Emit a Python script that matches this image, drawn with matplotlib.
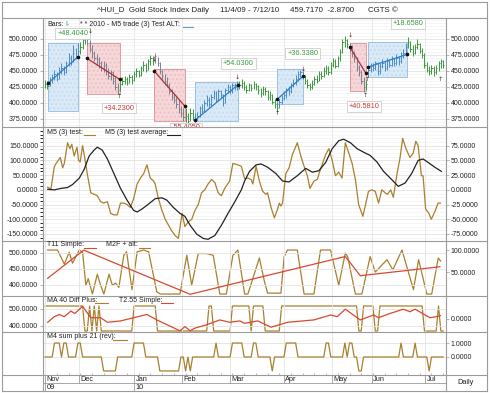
import numpy as np
import matplotlib
matplotlib.use('Agg')
import matplotlib.pyplot as plt
from matplotlib.patches import Rectangle
from matplotlib.lines import Line2D
from matplotlib.ticker import FixedLocator, FormatStrFormatter, MultipleLocator

plt.rcParams['font.family'] = ['Liberation Sans', 'DejaVu Sans']
plt.rcParams['axes.unicode_minus'] = False

W, H = 490, 393
FS = 5.0

# ---------------- data ----------------
close = [430, 427, 436, 440, 445, 437, 450, 455, 448, 462, 470, 465, 478, 474, 482, 488, 498, 505, 500, 485,
         478, 470, 468, 462, 455, 460, 450, 442, 448, 435, 425, 420, 430, 435, 438, 432, 440, 436, 445, 450,
         443, 455, 460, 452, 465, 470, 466, 474, 462, 450, 442, 435, 428, 418, 410, 405, 398, 390, 385, 378,
         380, 372, 385, 378, 376, 380, 392, 388, 400, 405, 398, 410, 415, 405, 418, 412, 400, 420, 425, 418,
         428, 425, 430, 428, 432, 425, 420, 428, 424, 430, 426, 420, 415, 422, 418, 410, 412, 402, 398, 392,
         402, 408, 412, 420, 418, 428, 432, 438, 445, 448, 442, 435, 428, 425, 430, 438, 435, 445, 442, 450,
         455, 448, 460, 465, 458, 470, 480, 495, 498, 492, 488, 478, 470, 455, 448, 435, 425, 430, 452, 458,
         455, 462, 450, 458, 463, 455, 465, 460, 468, 462, 470, 465, 475, 478, 488, 495, 485, 478, 488, 492,
         482, 475, 460, 452, 450, 455, 448, 455, 462, 465, 459.717]
high = [436, 434, 440, 446, 452, 448, 456, 462, 458, 466, 478, 475, 490, 486, 494, 496, 506, 512, 512, 498,
        490, 482, 476, 472, 466, 466, 462, 455, 452, 450, 440, 432, 435, 440, 442, 440, 445, 444, 450, 455,
        452, 458, 466, 462, 468, 475, 474, 478, 472, 464, 452, 446, 440, 432, 422, 415, 410, 404, 396, 392,
        392, 385, 392, 390, 384, 386, 396, 398, 405, 412, 410, 414, 420, 418, 422, 420, 414, 424, 430, 428,
        432, 432, 434, 434, 438, 434, 428, 432, 430, 435, 432, 428, 424, 426, 425, 420, 418, 414, 406, 402,
        406, 412, 418, 424, 426, 432, 438, 444, 450, 452, 450, 444, 438, 432, 436, 442, 444, 450, 450, 456,
        460, 458, 464, 470, 468, 474, 484, 500, 504, 500, 494, 490, 482, 472, 460, 452, 440, 436, 456, 462,
        462, 466, 464, 462, 468, 465, 470, 468, 474, 470, 476, 474, 480, 484, 494, 503, 497, 490, 492, 500,
        494, 486, 478, 464, 458, 460, 458, 460, 466, 468, 467]
low = [424, 422, 426, 432, 436, 434, 438, 446, 444, 447, 458, 460, 464, 468, 470, 476, 484, 492, 490, 480,
       470, 465, 460, 455, 450, 448, 444, 438, 436, 430, 420, 414, 418, 428, 430, 428, 432, 430, 435, 440,
       440, 442, 450, 448, 452, 460, 460, 462, 458, 446, 438, 428, 425, 414, 405, 400, 392, 385, 378, 372,
       370, 368, 372, 374, 370, 374, 378, 384, 386, 396, 394, 396, 406, 402, 404, 408, 396, 400, 416, 414,
       416, 420, 420, 422, 424, 420, 415, 418, 418, 422, 420, 414, 410, 412, 412, 405, 404, 398, 392, 386,
       392, 398, 404, 408, 412, 415, 425, 428, 434, 440, 438, 430, 424, 420, 422, 428, 432, 434, 438, 440,
       446, 444, 446, 456, 454, 456, 466, 478, 488, 486, 480, 472, 464, 450, 442, 430, 417, 420, 440, 448,
       450, 452, 444, 446, 454, 450, 452, 456, 458, 458, 460, 460, 462, 470, 474, 486, 480, 474, 476, 484,
       478, 470, 455, 448, 444, 446, 442, 446, 450, 454, 454]

month_labels = ['Nov', 'Dec', 'Jan', 'Feb', 'Mar', 'Apr', 'May', 'Jun', 'Jul']
month_pos = [0, 14.4, 38.1, 58.5, 78.8, 102, 122.5, 139.4, 162.3]
year_labels = ['09', '10']
year_pos = [0, 38.1]

# trade boxes
box_start = [1.3, 17.8, 46.6, 64.0, 99.2, 130.0, 137.7]
box_end = [14.0, 31.8, 59.7, 82.2, 110.2, 136.9, 154.7]
box_top = [494, 494, 453, 433, 453, 494, 495]
box_bottom = [388, 414, 372, 372, 398, 419, 441]
trend_start = [431, 470, 450, 373, 406, 488, 456]
trend_end = [472, 437, 395, 428, 442, 447, 476]
box_side = ['long', 'short', 'short', 'long', 'long', 'short', 'long']
trade_labels = ['+48.4040', '+34.2300', '-55.4050', '+54.0300', '+36.3380', '+40.5810', '+18.6580']
trade_label_x = [11.8, 31.6, 60.2, 82.6, 110.0, 136.2, 154.9]
trade_label_y = [509, 392, 361, 462, 477, 394, 524]

arrow_x = [19.5, 31.8, 46.6, 82.2, 99.2, 110.2, 130.4, 136.9, 137.7, 168.8]
arrow_y = [511, 410, 468, 440, 383, 452, 506, 412, 436, 437]
arrow_dir = ['down', 'up', 'down', 'down', 'up', 'down', 'down', 'up', 'up', 'up']

# panel 2: M5 (3) test and its average
m5_x = [1.1, 2.5, 3.9, 4.7, 6.5, 7.5, 8.2, 9.6, 10.6, 11.4, 12.4, 13.6, 14.3, 15, 16, 16.7, 18.1, 19.5, 20.9,
        22.3, 23.7, 25.1, 26.6, 28, 29.4, 30.8, 32.2, 33.6, 35, 36.4, 37.8, 39.3, 40.7, 42.1, 43.5, 44.9, 46.3,
        47, 48.4, 49.9, 51.3, 52.7, 54.1, 55.5, 56.9, 58.5, 59.7, 61, 62.6, 64, 65.4, 66.8, 68.2, 69.6, 71.1,
        72.5, 73.9, 75.3, 76.7, 78.8, 80.2, 82.3, 83.8, 85.2, 86.6, 88, 88.7, 90.1, 91.5, 92.9, 94.3, 95, 96.5,
        97.9, 99.3, 100, 100.7, 101.4, 102.8, 104.2, 105.6, 107.7, 109.2, 110.6, 112, 113.1, 114.8, 116.2,
        117.6, 119.8, 121.2, 122.6, 124, 125.4, 126.8, 128.2, 129.7, 131.1, 132.5, 133.9, 135.7, 136.7, 138.1,
        139.5, 141, 142.4, 143.8, 145.2, 146.2, 147.6, 148.7, 150.4, 151.5, 152.7, 154.1, 155.8, 157.2, 158.3,
        159.3, 160.7, 161.4, 162.5, 163.9, 164.9, 166.4, 167.8, 168.8]
m5_val = [9, 3, 78, 90, 110, 75, 90, 160, 140, 155, 115, 145, 100, 95, 150, 120, 50, -10, -15,
          -20, -40, -45, -40, -80, -85, -85, -45, -45, -50, -60, -30, 20, 40, 55, 85, 40, 30,
          20, -30, -70, -100, -120, -140, -155, -165, -80, -125, -110, -100, -70, -50, -10, 0, 20, 35,
          25, -10, -20, 5, 30, 90, 85, 80, 38, 40, 35, 20, 80, 30, -5, -15, -10, -60,
          -95, -65, -45, -55, -45, 55, 75, 120, 160, 115, 80, 48, 5, 30, 35,
          70, 120, 140, 100, 48, 60, 40, 160, 125, 90, 35, -50, -90, -55, -5,
          0, -5, -45, 0, -10, -15, 0, -25, 60, 105, 175, 140, 110, 125, 165,
          150, 48, 48, -65, -80, -100, -75, -45, -45]
avg_x = [1.1, 3.9, 6.8, 9.6, 11.7, 14.6, 16.7, 18.8, 20.9, 22.3, 24.4, 26.6, 29.4, 32.2, 35, 37.8, 39.3, 41.4,
         44.2, 47, 49.9, 52, 54.8, 57.6, 59.7, 61.9, 64.7, 67.5, 69.6, 72.5, 75.3, 78.1, 80.9, 83.8, 85.2, 87.3,
         90.1, 92.2, 95, 98.6, 101.4, 104.2, 107.7, 111.3, 114.1, 116.9, 119.8, 122.6, 125.4, 127.5, 130.4,
         133.2, 136, 138.8, 141.7, 144.5, 148, 150.8, 153.7, 156.5, 159.3, 161.4, 163.6, 166.4, 169.2]
avg_val = [2, 0, 5, 8, 18, 40, 70, 115, 135, 145, 135, 105, 55, 5, -35, -70, -75, -65,
           -48, -30, -27, -35, -60, -80, -90, -120, -150, -165, -168, -155, -120, -80, -42, 0, 30, 63,
           85, 88, 77, 55, 30, 27, 48, 73, 60, 65, 93, 140, 167, 172, 160,
           140, 128, 117, 95, 63, 35, 12, 23, 55, 100, 105, 93, 77, 63]

# panel 3: T11 Simple (0-100 scale) and M2F + alt
t11_x = [1.1, 5.3, 8.2, 10.3, 11.7, 14.6, 16, 17.4, 18.4, 20.2, 22.3, 23.7, 25.1, 27.3, 28.7, 30.1, 31.5,
         33.6, 34.8, 37.1, 39.3, 42.1, 44.2, 47.7, 49.2, 57.6, 60.5, 62.6, 65.4, 68.9, 71.8, 74.6, 77.4, 80.2,
         82.3, 85.2, 86.6, 91.5, 93.6, 95, 100.7, 102.1, 103.5, 107.7, 110.6, 114.8, 117.6, 121.9, 125.4, 128.2,
         129.2, 132.5, 135.3, 138.8, 141, 146, 148.5, 152.4, 157.3, 159.5, 163, 165.1, 167.9, 168.9]
t11_val = [100, 100, 68, 95, 70, 100, 95, 20, 35, 0, 45, 20, 0, 45, 20, 25, 15,
           88, 96, 10, 96, 100, 96, 5, 0, 0, 88, 20, 92, 92, 88, 0, 0, 88,
           100, 0, 0, 82, 30, 2, 2, 85, 100, 100, 0, 0, 100, 100, 20, 93,
           85, 0, 0, 85, 50, 78, 55, 100, 10, 78, 0, 0, 82, 75]
m2f_x = [1.1, 16.5, 61.9, 128.2, 134.6, 168.6]
m2f_val = [421, 509, 371, 489, 429, 457]

# panel 4: MA 40 Diff Plus (+1/-1) and T2.55 Simple
ma40 = [1, 1, 1, 1, 1, 1, 1, 1, 1, 1, 1, 1, 1, 1, 1, 1, 1, -1, -1, 1,
        -1, 1, -1, 1, -1, -1, -1, -1, -1, -1, -1, -1, -1, -1, -1, -1, -1, -1, 1, 1,
        1, 1, 1, 1, 1, 1, 1, 1, -1, -1, -1, -1, -1, -1, -1, -1, -1, -1, -1, -1,
        -1, -1, -1, -1, -1, -1, -1, -1, -1, -1, 1, 1, -1, -1, -1, -1, -1, -1, -1, -1,
        1, 1, 1, 1, 1, 1, 1, 1, -1, 1, 1, 1, 1, 1, -1, -1, -1, -1, -1, -1,
        -1, 1, 1, 1, 1, 1, 1, 1, 1, 1, 1, 1, 1, 1, 1, 1, 1, 1, 1, 1,
        1, 1, 1, 1, 1, 1, 1, 1, 1, 1, 1, 1, 1, 1, -1, -1, 1, 1, 1, 1,
        1, -1, -1, 1, 1, 1, 1, 1, 1, 1, 1, 1, 1, 1, 1, 1, 1, 1, 1, 1,
        1, 1, -1, -1, -1, -1, -1, -1, 1, -1, -1]
t255_x = [1.1, 3.9, 6.1, 8.2, 11, 12.7, 16, 19.5, 23.7, 26.6, 32.2, 43.5, 47.7, 57.6, 59.7, 61.9, 64, 68.9,
          74.6, 78.8, 83.1, 85.2, 90.8, 96.5, 103.5, 114.8, 121.9, 124.7, 128.2, 134.6, 140.3, 142.4, 147.3,
          153, 155.8, 158, 164.3, 167.1, 168.8]
t255_val = [419, 452, 465, 452, 485, 471, 513, 446, 446, 419, 427, 465, 433, 369, 394, 369, 385, 404,
            433, 419, 427, 413, 427, 390, 419, 433, 462, 452, 496, 433, 462, 446, 471,
            496, 481, 496, 446, 452, 458]

# panel 5: M4 sum plus 21 (rev)
m4 = [0, 0, 0, 0, 1, 1, 1, 0, 1, 1, 0, 0, 0, 0, 1, 1, 0, 0, 0, 0,
      0, 0, 0, 0, 0, -1, -1, -1, -1, -1, -1, 0, 0, 0, 0, 0, 0, 0, 1, 1,
      1, 1, 1, 0, 0, 0, 0, 0, 0, -1, -1, -1, -1, -1, -1, -1, -1, -1, 0, 0,
      -1, 0, -1, 0, 0, 0, 0, 0, 0, 0, 0, 0, 0, 1, 0, 0, 0, 0, 0, 0,
      1, 1, 1, 1, 1, 0, 0, 0, 0, 1, 1, 0, 0, 0, 0, 0, 0, -1, 0, 0,
      0, 0, 0, 1, 1, 1, 1, 1, 0, 0, 0, 0, 0, 0, 0, 0, 0, 0, 0, 0,
      1, 1, 0, 0, 0, 0, 0, 0, 1, 0, 1, 1, 0, 0, -1, -1, 0, 0, 0, 0,
      0, 0, 0, 0, 0, 0, 0, 0, 0, 0, 0, 0, 1, 0, 0, 0, 0, 0, 1, 0,
      0, 0, 0, 0, -1, 0, 0, 0, 0, 0, 0]

title_parts = ['^HUI_D  Gold Stock Index Daily', '11/4/09 - 7/12/10', '459.7170  -2.8700', 'CGTS \u00a9']

# ---------------- style ----------------
TAN = '#a8802e'
RED = '#d8492f'
GREEN = '#3a9a3e'
BLUE_BAR = '#4a8cc8'
SHORT_BAR = '#7d8090'
GRID = '#e3e3e3'
FRAME = '#9a9a9a'
TXT = '#222222'

n = len(close)
idx = np.arange(n)
XLIM = (-0.9, n + 0.2)

fig = plt.figure(figsize=(W / 100, H / 100), dpi=100)
fig.patch.set_facecolor('white')


def fx(px):
    return px / W


def fy(py):
    return 1 - py / H


def panel(top, bottom):
    ax = fig.add_axes([fx(43), fy(bottom), fx(446) - fx(43), fy(top) - fy(bottom)])
    ax.set_xlim(*XLIM)
    ax.set_xticks(month_pos)
    ax.tick_params(axis='x', which='both', bottom=False, labelbottom=False)
    ax.grid(axis='x', color=GRID, lw=0.6)
    for s in ax.spines.values():
        s.set_visible(False)
    ax.tick_params(axis='y', which='major', labelsize=FS, length=2, width=0.5, color=FRAME,
                   labelcolor=TXT, pad=1.5)
    ax.tick_params(axis='y', which='minor', left=False, right=False)
    ax.set_axisbelow(True)
    return ax


def fmt(ax):
    ax.yaxis.set_major_formatter(FormatStrFormatter('%.4f'))


def twin(ax, lo, hi, ticks):
    r = ax.twinx()
    r.set_ylim(lo, hi)
    r.set_xlim(*XLIM)
    r.yaxis.set_major_locator(FixedLocator(ticks))
    r.tick_params(axis='y', labelsize=FS, length=2, width=0.5, color=FRAME, labelcolor=TXT, pad=1.5)
    for s in r.spines.values():
        s.set_visible(False)
    fmt(r)
    return r


# ---------- Panel 1: price ----------
ax1 = panel(18, 127)
ax1.set_ylim(362.5, 532.8)
ax1.yaxis.set_major_locator(FixedLocator([375, 400, 425, 450, 475, 500]))
ax1.yaxis.set_minor_locator(MultipleLocator(5))
ax1.grid(axis='y', which='major', color=GRID, lw=0.6)
ax1.grid(axis='y', which='minor', color='#f2f2f2', lw=0.5)
ax1.tick_params(axis='y', which='major', right=True, labelright=True)
fmt(ax1)

bar_col = []
for i in idx:
    c = GREEN
    for s, e, side in zip(box_start, box_end, box_side):
        if s <= i <= e:
            c = BLUE_BAR if side == 'long' else SHORT_BAR
    bar_col.append(c)

for s, e, t, b, side in zip(box_start, box_end, box_top, box_bottom, box_side):
    fc = '#dbeaf7' if side == 'long' else '#f6d8da'
    hc = '#c6dcf0' if side == 'long' else '#eec2c5'
    ec = '#8fbbe0' if side == 'long' else '#d88f95'
    ax1.add_patch(Rectangle((s, b), e - s, t - b, facecolor=fc, edgecolor=hc, lw=0,
                            hatch='....', zorder=1))
    ax1.add_patch(Rectangle((s, b), e - s, t - b, facecolor='none', edgecolor=ec, lw=0.6, zorder=2))

ax1.vlines(idx, low, high, colors=bar_col, lw=0.7, zorder=3)
ax1.hlines(close, idx, idx + 0.55, colors=bar_col, lw=0.7, zorder=3)

for s, e, v0, v1, side in zip(box_start, box_end, trend_start, trend_end, box_side):
    lc = '#2f7fc1' if side == 'long' else '#a83238'
    ax1.plot([s, e], [v0, v1], color=lc, lw=0.9, zorder=4)
    ax1.plot([s, e], [v0, v1], 'o', color='#111111', ms=1.6, zorder=5)

for lab, x, y, side in zip(trade_labels, trade_label_x, trade_label_y, box_side):
    col = GREEN if side == 'long' else '#c63a32'
    ax1.text(x, y, lab, fontsize=FS + 0.3, color=col, ha='center', va='center', zorder=6,
             bbox=dict(boxstyle='square,pad=0.25', fc='white', ec='#c4c4c4', lw=0.5), clip_on=True)

for x, y, d in zip(arrow_x, arrow_y, arrow_dir):
    ax1.text(x, y, '\u2193' if d == 'down' else '\u2191', fontsize=FS - 0.5,
             color='#6a1c1c' if d == 'down' else '#1d4d1d',
             ha='center', va='center', zorder=7, family='DejaVu Sans')

# ---------- Panel 2 ----------
ax2 = panel(127, 241)
ax2.set_ylim(-173.8, 213.6)
ax2.yaxis.set_major_locator(FixedLocator([-150, -100, -50, 0, 50, 100, 150]))
ax2.yaxis.set_minor_locator(MultipleLocator(12.5))
ax2.grid(axis='y', which='major', color=GRID, lw=0.6)
ax2.grid(axis='y', which='minor', color='#f2f2f2', lw=0.5)
fmt(ax2)
ax2.plot(m5_x, m5_val, color=TAN, lw=0.9, zorder=3)
ax2.plot(avg_x, avg_val, color='#222222', lw=0.9, zorder=4)
ax2r = twin(ax2, -86.9, 106.8, [-75, -50, -25, 0, 25, 50, 75])

# ---------- Panel 3 ----------
ax3 = panel(241, 296)
ax3.set_ylim(365.6, 537.5)
ax3.yaxis.set_major_locator(FixedLocator([400, 450, 500]))
ax3.grid(axis='y', which='major', color=GRID, lw=0.6)
fmt(ax3)
ax3r = twin(ax3, -4.5, 120.5, [50, 100])
ax3r.plot(t11_x, t11_val, color=TAN, lw=0.9)
ax3.plot(m2f_x, m2f_val, color=RED, lw=0.9, zorder=4)
ax3.set_zorder(ax3r.get_zorder() + 1)
ax3.patch.set_visible(False)

# ---------- Panel 4 ----------
ax4 = panel(296, 332)
ax4.set_ylim(362, 573.5)
ax4.yaxis.set_major_locator(FixedLocator([400, 500]))
ax4.grid(axis='y', which='major', color=GRID, lw=0.6)
fmt(ax4)
ax4r = twin(ax4, -1.08, 1.8, [0])
ax4r.plot(idx, ma40, color=TAN, lw=0.9)
ax4.plot(t255_x, t255_val, color=RED, lw=0.9, zorder=4)
ax4.set_zorder(ax4r.get_zorder() + 1)
ax4.patch.set_visible(False)

# ---------- Panel 5 ----------
ax5 = panel(332, 375)
ax5.set_ylim(-1.29, 1.79)
ax5.yaxis.set_major_locator(FixedLocator([0, 1]))
ax5.grid(axis='y', which='major', color=GRID, lw=0.6)
ax5.tick_params(axis='y', left=False, labelleft=False, right=True, labelright=True)
fmt(ax5)
ax5.plot(idx, m4, color=TAN, lw=0.9, zorder=3)
ax5.xaxis.set_minor_locator(MultipleLocator(5))
ax5.tick_params(axis='x', which='minor', bottom=True, direction='in', length=1.5, width=0.5, color=FRAME)

# ---------- date axis row ----------
axd = fig.add_axes([fx(43), fy(391), fx(446) - fx(43), fy(375) - fy(391)])
axd.set_xlim(*XLIM)
axd.set_ylim(0, 1)
axd.axis('off')
for p, lab in zip(month_pos, month_labels):
    axd.plot([p, p], [0.5, 1], color=FRAME, lw=0.6)
    axd.text(p + 0.6, 0.74, lab, fontsize=FS + 0.3, color=TXT, va='center', ha='left')
for p, lab in zip(year_pos, year_labels):
    axd.plot([p, p], [0, 0.5], color=FRAME, lw=0.6)
    axd.text(p + 0.6, 0.24, lab, fontsize=FS + 0.3, color=TXT, va='center', ha='left')
axd.plot(XLIM, [0.5, 0.5], color=FRAME, lw=0.6)

# ---------- frame lines ----------
def hline(y, x0=2, x1=487):
    fig.add_artist(Line2D([fx(x0), fx(x1)], [fy(y), fy(y)], color=FRAME, lw=0.8))


def vline(x, y0, y1):
    fig.add_artist(Line2D([fx(x), fx(x)], [fy(y0), fy(y1)], color=FRAME, lw=0.8))


for y in [2, 18, 127, 241, 296, 332, 375, 391]:
    hline(y)
vline(2, 2, 391)
vline(487, 2, 391)
vline(43, 18, 391)
vline(446, 18, 391)

# ---------- texts ----------
fig.text(fx(97), fy(10), title_parts[0], fontsize=FS + 0.7, color=TXT, va='center')
fig.text(fx(220), fy(10), title_parts[1], fontsize=FS + 0.7, color=TXT, va='center')
fig.text(fx(290), fy(10), title_parts[2], fontsize=FS + 0.7, color=TXT, va='center')
fig.text(fx(368), fy(10), title_parts[3], fontsize=FS + 0.7, color=TXT, va='center')
fig.text(fx(466), fy(383), 'Daily', fontsize=FS + 0.3, color=TXT, va='center', ha='center')


def legend(x, y, s, color=TXT):
    fig.text(fx(x), fy(y), s, fontsize=FS, color=color, va='center', ha='left')


def uline(x0, x1, y, color):
    fig.add_artist(Line2D([fx(x0), fx(x1)], [fy(y), fy(y)], color=color, lw=0.8))


legend(47, 24, 'Bars:')
legend(65, 24, 'I-', GREEN)
legend(80, 24, '* * 2010 - M5 trade (3) Test ALT:')
uline(183, 193, 27, '#5b9bd5')
legend(47, 132, 'M5 (3) test:')
uline(84, 95, 135, TAN)
legend(105, 132, 'M5 (3) test average:')
uline(167, 180, 135, '#222222')
legend(47, 245, 'T11 Simple:')
uline(84, 96, 248, RED)
legend(106, 245, 'M2F + alt:')
uline(139, 150, 248, TAN)
legend(47, 300, 'MA 40 Diff Plus:')
uline(95, 108, 303, TAN)
legend(119, 300, 'T2.55 Simple:')
uline(161, 173, 303, RED)
legend(47, 337, 'M4 sum plus 21 (rev):')
uline(113, 127, 340, TAN)

fig.savefig('out.png', dpi=100, facecolor='white')
